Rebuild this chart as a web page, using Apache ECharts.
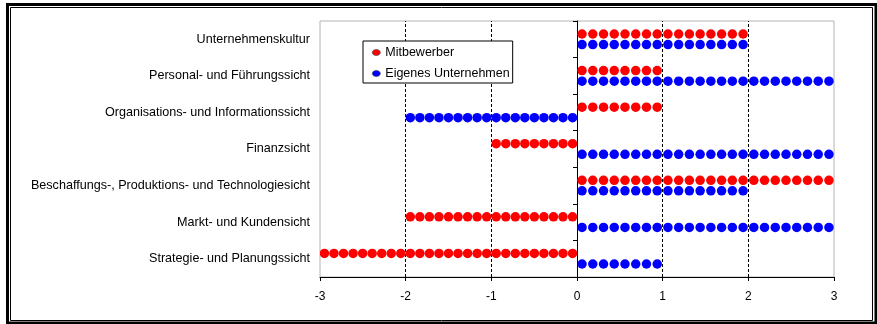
<!DOCTYPE html>
<html>
<head>
<meta charset="utf-8">
<script src="https://cdn.jsdelivr.net/npm/echarts@6/dist/echarts.min.js"></script>
<style>
html, body { margin: 0; padding: 0; background: #fff; }
#chart { width: 877px; height: 324px; }
</style>
</head>
<body>
<div id="chart"></div>
<script>
// Kategorien von unten nach oben
var categories = [
  'Strategie- und Planungssicht',
  'Markt- und Kundensicht',
  'Beschaffungs-, Produktions- und Technologiesicht',
  'Finanzsicht',
  'Organisations- und Informationssicht',
  'Personal- und Führungssicht',
  'Unternehmenskultur'
];
var mitbewerber = [-3, -2, 3, -1, 1, 1, 2];
var eigenes = [1, 3, 2, 3, -2, 3, 2];
var gridValues = [-2, -1, 1, 2];
var xMin = -3, xMax = 3;

var font = 'Liberation Sans, Arial, sans-serif';

function dotSeries(name, data, color) {
  return {
    name: name,
    type: 'pictorialBar',
    data: data,
    symbol: 'circle',
    symbolSize: [9.5, 9.5],
    symbolRepeat: 'fixed',
    symbolMargin: 0.4,   // wird links+rechts angesetzt
    symbolClip: true,
    symbolBoundingData: [xMin, xMax],
    barWidth: 10.6,
    barGap: '0%',
    itemStyle: { color: color, borderColor: '#3a3a3a', borderWidth: 0.6 },
    z: 3
  };
}

var seriesList = [
  dotSeries('Mitbewerber', mitbewerber, '#ff0000'),
  dotSeries('Eigenes Unternehmen', eigenes, '#0000ff')
];
// gestrichelte Hilfslinien
seriesList[0].markLine = {
  silent: true,
  symbol: 'none',
  label: { show: false },
  lineStyle: { color: '#000', type: [3, 2], width: 1 },
  data: gridValues.map(function (v) { return { xAxis: v }; }),
  z: 1
};

var chart = echarts.init(document.getElementById('chart'));
chart.setOption({
  animation: false,
  textStyle: { fontFamily: font },
  graphic: [
    { type: 'rect', shape: { x: 7.5, y: 4.5, width: 868.5, height: 318.5 }, style: { fill: 'none', stroke: '#000', lineWidth: 3 } },
    { type: 'rect', shape: { x: 10.5, y: 7.5, width: 862, height: 313 }, style: { fill: 'none', stroke: '#000', lineWidth: 1 } }
  ],
  grid: {
    left: 320, right: 43, top: 21, bottom: 47,
    show: true, borderColor: '#b4b4b4', borderWidth: 1, backgroundColor: 'transparent'
  },
  legend: {
    data: ['Mitbewerber', 'Eigenes Unternehmen'],
    orient: 'vertical',
    left: 363, top: 41,
    padding: [5, 3, 3, 9],
    itemGap: 8,
    itemWidth: 8, itemHeight: 6,
    icon: 'path://M0,3C0,-1,8,-1,8,3C8,7,0,7,0,3Z',
    backgroundColor: '#fff',
    borderColor: '#000', borderWidth: 1,
    textStyle: { fontFamily: font, fontSize: 12.5, color: '#000' },
    itemStyle: { borderColor: '#3a3a3a', borderWidth: 0.6 }
  },
  xAxis: {
    type: 'value',
    min: xMin, max: xMax, interval: 1,
    axisLine: { show: true, onZero: false, lineStyle: { color: '#000', width: 1 } },
    axisTick: { show: true, length: 4, lineStyle: { color: '#000' } },
    axisLabel: { fontFamily: font, fontSize: 12, color: '#000', margin: 14 },
    splitLine: { show: false }
  },
  yAxis: [
    {
      type: 'category',
      data: categories,
      axisLine: { show: false, onZero: false },
      axisTick: { show: false },
      axisLabel: { fontFamily: font, fontSize: 12.6, color: '#000', margin: 10 },
      splitLine: { show: false }
    },
    {
      type: 'category',
      data: categories,
      position: 'left',
      axisLine: { show: true, onZero: true, lineStyle: { color: '#000', width: 1 } },
      axisTick: { show: true, length: 4, lineStyle: { color: '#000' } },
      axisLabel: { show: false },
      splitLine: { show: false }
    }
  ],
  series: seriesList
});
</script>
</body>
</html>
